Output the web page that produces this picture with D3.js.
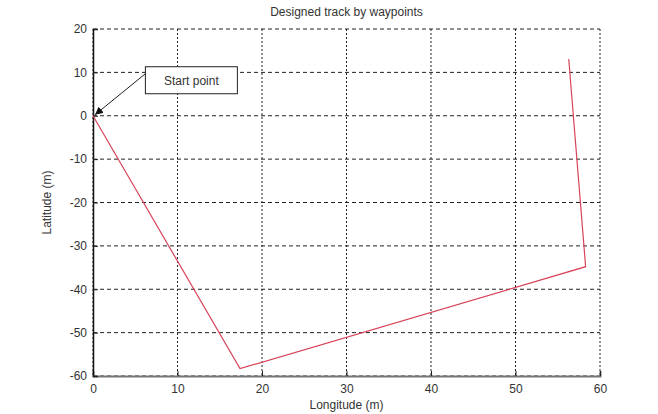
<!DOCTYPE html>
<html>
<head>
<meta charset="utf-8">
<script src="https://cdn.jsdelivr.net/npm/d3@7"></script>
<style>
  body { margin: 0; background: #fff; }
  text { font-family: "Liberation Sans", Arial, sans-serif; fill: #333; }
</style>
</head>
<body>
<svg width="658" height="414"></svg>
<script>
// waypoints (longitude, latitude in m)
var lon = [0, 17.4, 58.3, 56.3]
var lat = [0, -58.3, -34.8, 13.1]
var xTicks = [0, 10, 20, 30, 40, 50, 60]
var yTicks = [20, 10, 0, -10, -20, -30, -40, -50, -60]

var svg = d3.select('svg')
var margin = {top: 29, right: 58, bottom: 38, left: 93}
var w = 658 - margin.left - margin.right
var h = 414 - margin.top - margin.bottom

var x = d3.scaleLinear().domain([0, 60]).range([0, w])
var y = d3.scaleLinear().domain([-60, 20]).range([h, 0])

var g = svg.append('g').attr('transform', 'translate(' + margin.left + ',' + margin.top + ')')

// grid
g.selectAll('.hgrid').data(yTicks).enter().append('line')
  .attr('x1', 0).attr('x2', w)
  .attr('y1', function(d){ return y(d) }).attr('y2', function(d){ return y(d) })
  .attr('stroke', '#222').attr('stroke-width', 1)
  .attr('stroke-dasharray', '4,3')
g.selectAll('.vgrid').data(xTicks).enter().append('line')
  .attr('y1', 0).attr('y2', h)
  .attr('x1', function(d){ return x(d) }).attr('x2', function(d){ return x(d) })
  .attr('stroke', '#222').attr('stroke-width', 1)
  .attr('stroke-dasharray', '2,2')

// axes (plain hyphen for negatives, like the original)
var fmt = function(d){ return String(d) }
var xAxis = g.append('g').attr('transform', 'translate(0,' + h + ')')
  .call(d3.axisBottom(x).tickValues(xTicks).tickSize(-5).tickPadding(8).tickFormat(fmt))
var yAxis = g.append('g')
  .call(d3.axisLeft(y).tickValues(yTicks).tickSize(-5).tickPadding(6).tickFormat(fmt))
xAxis.select('.domain').attr('stroke', '#777').attr('stroke-width', 2)
yAxis.select('.domain').attr('stroke', '#111').attr('stroke-width', 1.5)
svg.selectAll('.tick line').attr('stroke', '#222')
svg.selectAll('.tick text').attr('font-size', 12).style('fill', '#333')
  .attr('font-family', '"Liberation Sans", Arial, sans-serif')

// track
var pts = lon.map(function(d, i){ return [d, lat[i]] })
g.append('path').datum(pts)
  .attr('fill', 'none')
  .attr('stroke', '#d8435a')
  .attr('stroke-width', 1.2)
  .attr('d', d3.line().x(function(d){ return x(d[0]) }).y(function(d){ return y(d[1]) }))

// annotation
svg.append('defs').append('marker')
  .attr('id', 'arr').attr('viewBox', '0 0 10 10')
  .attr('refX', 10).attr('refY', 5)
  .attr('markerWidth', 8).attr('markerHeight', 8)
  .attr('orient', 'auto')
  .append('path').attr('d', 'M0,0 L10,5 L0,10 z').attr('fill', '#111')

var bx = x(6.2), by = y(11.3)
g.append('line')
  .attr('x1', bx).attr('y1', by + 7)
  .attr('x2', x(0) + 2).attr('y2', y(0) - 1)
  .attr('stroke', '#222').attr('stroke-width', 1)
  .attr('marker-end', 'url(#arr)')
g.append('rect')
  .attr('x', bx).attr('y', by)
  .attr('width', 92).attr('height', 27)
  .attr('fill', '#fff').attr('stroke', '#222')
g.append('text')
  .attr('x', bx + 46).attr('y', by + 18)
  .attr('text-anchor', 'middle').attr('font-size', 12)
  .text('Start point')

// titles
svg.append('text').attr('x', margin.left + w / 2).attr('y', 16)
  .attr('text-anchor', 'middle').attr('font-size', 12)
  .text('Designed track by waypoints')
svg.append('text').attr('x', margin.left + w / 2).attr('y', 409)
  .attr('text-anchor', 'middle').attr('font-size', 12)
  .text('Longitude (m)')
svg.append('text')
  .attr('transform', 'translate(51,' + (margin.top + h / 2) + ') rotate(-90)')
  .attr('text-anchor', 'middle').attr('font-size', 12)
  .text('Latitude (m)')
</script>
</body>
</html>
